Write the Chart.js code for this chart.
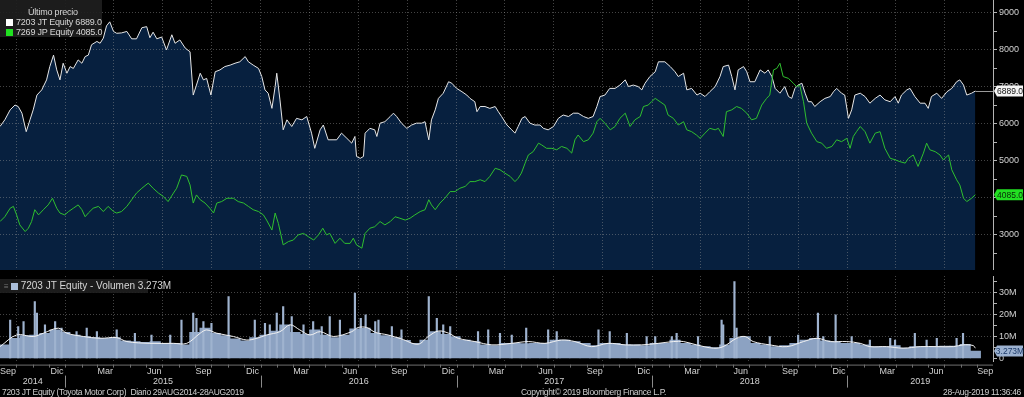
<!DOCTYPE html>
<html>
<head>
<meta charset="utf-8">
<script src="https://cdn.jsdelivr.net/npm/chart.js@4.4.1/dist/chart.umd.min.js"></script>
<style>
  html, body { margin: 0; padding: 0; background: #000; }
  body {
    width: 1024px; height: 397px; position: relative; overflow: hidden;
    font-family: 'Liberation Sans', Arial, sans-serif;
    color: #d6d6d6;
  }
  #price { position: absolute; left: 0; top: 0; }
  #volume { position: absolute; left: 0; top: 270px; }
  .legend { position: absolute; background: rgba(30, 30, 30, 0.93); font-size: 9px; line-height: 10px; white-space: pre; letter-spacing: -0.2px; }
  .legend .row { position: absolute; left: 6px; }
  .legend .sw { display: inline-block; width: 7px; height: 7px; margin-right: 3px; vertical-align: -1px; }
  #legVol { font-size: 10px; letter-spacing: 0; }
  .foot { position: absolute; top: 387px; font-size: 8.5px; line-height: 10px; white-space: pre; color: #cfcfcf; letter-spacing: -0.3px; }
</style>
</head>
<body>
<canvas id="price" width="1024" height="270"></canvas>
<canvas id="volume" width="1024" height="127"></canvas>

<div class="legend" id="legPrice" style="left:0;top:0;width:102px;height:37px;">
  <div style="position:absolute;left:28px;top:7px;">Último precio</div>
  <div class="row" id="row7203" style="top:17px;"></div>
  <div class="row" id="row7269" style="top:27px;"></div>
</div>
<div class="legend" id="legVol" style="left:0;top:279px;width:148px;height:14px;">
  <div class="row" id="rowVol" style="top:2px;left:4px;"></div>
</div>

<div class="foot" style="left:2px;">7203 JT Equity (Toyota Motor Corp)  Diario 29AUG2014-28AUG2019</div>
<div class="foot" style="left:521px;">Copyright© 2019 Bloomberg Finance L.P.</div>
<div class="foot" style="right:3px;">28-Aug-2019 11:36:46</div>

<script>
// x values are days since 29-Aug-2014 (first day of the window)
const DAYS_7203 = [3,12,22,31,37,44,52,59,65,72,81,90,96,103,109,115,121,128,134,140,149,156,162,168,174,184,190,196,202,208,215,221,230,240,249,258,268,277,283,289,296,305,314,324,330,339,349,358,364,370,377,383,389,397,405,414,423,433,442,451,461,467,476,486,492,498,504,511,517,520,526,532,539,548,557,567,576,585,591,601,607,616,632,641,651,660,666,669,676,682,685,694,703,707,713,722,732,738,744,753,763,772,781,791,797,800,804,809,816,822,831,841,847,856,866,875,881,890,894,900,909,918,928,934,940,950,959,965,971,978,984,993,1002,1012,1018,1027,1037,1046,1055,1065,1074,1083,1093,1102,1111,1118,1124,1133,1142,1152,1161,1171,1177,1186,1195,1202,1208,1217,1227,1233,1245,1255,1264,1270,1280,1286,1295,1305,1311,1320,1329,1339,1348,1354,1364,1370,1376,1382,1392,1398,1404,1413,1423,1432,1438,1445,1451,1460,1469,1476,1482,1488,1494,1501,1507,1513,1519,1525,1535,1544,1554,1560,1566,1575,1581,1588,1594,1600,1610,1619,1628,1638,1647,1656,1666,1675,1681,1687,1697,1703,1712,1722,1731,1737,1743,1753,1762,1772,1781,1790,1796,1803,1809,1818,1825];
const PX_7203 = [5930,6110,6380,6510,6470,6290,5790,6110,6380,6780,6920,7190,7550,7860,7460,7190,7640,7370,7550,7500,7730,7640,7820,7860,8140,8230,8180,8320,8650,8760,8500,8450,8460,8500,8300,8300,8600,8630,8330,8480,8300,8350,8000,8410,8180,8270,8050,7950,6780,7050,7370,7190,7230,6780,7410,7460,7550,7590,7640,7680,7820,7680,7590,7500,7280,6920,6830,6420,7010,7370,6650,5840,6110,5930,6150,6110,6200,5750,5340,5840,5970,5570,5570,5750,5610,5480,5660,5120,5070,5120,5750,5880,5840,5660,6020,6060,6200,6290,6200,6020,5880,5970,6020,6020,6060,5840,5570,6110,6380,6690,6830,7140,7100,6960,6870,6780,6690,6600,6330,6470,6470,6420,6470,6330,6200,5970,5840,5750,5930,6150,6200,6020,5970,5970,5880,5840,5930,6150,6240,6200,6290,6290,6200,6150,6200,6470,6740,6780,6960,6960,7050,7190,7010,7050,7010,6920,7100,7280,7410,7680,7680,7550,7410,7280,7370,6920,6960,6780,6830,6740,6870,7010,7280,7550,7590,7280,6920,7460,7550,7410,7140,7140,7460,7370,7460,7280,6960,6830,7010,6740,6690,6960,7050,7100,6830,6600,6600,6470,6600,6690,6740,6870,6960,6830,6780,6150,6380,6780,6830,6740,6560,6690,6780,6650,6600,6740,6560,6780,6920,6960,6740,6560,6560,6420,6740,6830,6690,6870,6960,7140,7190,7050,6780,6830,6889];

const DAYS_7269 = [3,12,22,28,34,40,50,56,62,68,75,84,93,101,109,115,124,131,140,149,156,162,168,177,187,196,205,215,221,230,240,249,258,268,280,289,299,308,317,327,333,342,352,358,364,370,377,386,395,402,408,417,427,439,448,458,467,476,486,495,501,511,517,523,532,542,551,560,570,579,589,598,606,613,619,629,638,647,657,663,669,679,685,694,703,713,722,732,741,750,760,769,778,788,797,804,809,816,825,834,844,853,862,872,881,890,900,909,918,928,937,946,956,965,971,977,984,990,999,1009,1015,1024,1034,1043,1052,1062,1071,1077,1083,1093,1102,1111,1118,1124,1133,1143,1152,1161,1171,1180,1189,1199,1205,1214,1220,1227,1236,1245,1251,1261,1270,1280,1286,1295,1304,1311,1320,1329,1339,1345,1354,1360,1370,1379,1388,1398,1407,1416,1426,1435,1441,1448,1454,1460,1466,1476,1485,1491,1497,1504,1510,1519,1529,1538,1547,1557,1566,1575,1585,1591,1597,1603,1610,1619,1628,1638,1647,1656,1666,1675,1684,1694,1700,1709,1718,1728,1734,1740,1750,1759,1765,1775,1781,1790,1796,1803,1809,1818,1825];
const PX_7269 = [3360,3490,3720,3770,3540,3270,3090,3180,3360,3680,3540,3680,3810,3990,3720,3590,3540,3630,3720,3810,3680,3490,3590,3720,3770,3630,3770,3630,3590,3630,3770,3950,4130,4260,4400,4260,4130,4040,3900,4130,4260,4620,4580,4350,3860,4080,3950,3860,3720,3590,3860,3900,3990,3990,3900,3860,3770,3680,3630,3540,3400,3130,3590,3310,2730,2820,2860,3000,3040,2950,2860,3000,3180,3000,3040,2770,2910,2770,2770,2910,2730,2640,3040,3180,3220,3360,3270,3360,3490,3450,3400,3450,3540,3630,3680,3950,3810,3680,3860,3990,4170,4170,4260,4310,4440,4440,4490,4440,4580,4800,4760,4670,4580,4440,4530,4670,4940,5160,5250,5480,5430,5340,5340,5300,5390,5340,5210,5570,5700,5520,5570,5750,6060,6150,6020,5840,5930,6150,6290,5930,6110,6200,6470,6510,6600,6690,6600,6510,6240,6150,5970,6060,5840,5790,5700,5610,5750,5880,5840,5880,5660,6330,6380,6470,6420,6290,6110,6150,6510,6690,6780,7460,7500,7640,7280,7230,7100,7010,7050,6600,6020,5750,5520,5480,5340,5390,5570,5520,5610,5340,5660,5790,5930,5790,5480,5750,5790,5340,5070,5030,4980,4940,5070,5160,4850,5210,5480,5300,5250,5160,5030,5160,4760,4490,4350,3990,3900,3990,4085];

// volume, millions of shares: general level, single-day spikes, moving average
const VOL_DAYS = [12,31,50,68,87,106,124,143,162,180,199,218,237,255,274,293,311,330,349,367,386,405,423,442,461,479,498,517,535,554,573,591,610,629,647,666,685,704,722,741,760,778,797,816,834,853,872,890,909,928,946,965,984,1002,1021,1040,1058,1077,1096,1114,1133,1152,1171,1189,1208,1227,1245,1264,1283,1301,1320,1339,1357,1376,1395,1413,1432,1451,1469,1488,1507,1525,1544,1563,1581,1600,1619,1637,1656,1675,1694,1712,1731,1750,1768,1787,1806,1825];
const VOL_LEVEL = [6.1,9.1,10.3,10.6,11.4,12.9,11.8,10.6,9.9,9.4,9.1,9.4,7.9,7.6,7.3,7.6,6.8,6.8,6.1,11.8,13.7,11.4,10.3,8.8,7.9,9.4,10.6,12.4,15.2,11.8,10.9,12.9,10.6,9.4,10.6,13.4,13.7,11.4,10.3,9.4,8.2,6.8,8.3,12.1,10.9,9.9,8.3,7.6,6.1,5.8,6.8,6.8,6.7,6.8,6.8,8.3,8.3,7.6,6.8,5.8,6.8,6.8,6.1,6.1,5.8,6.8,6.8,8.3,6.8,6.1,5.3,4.9,6.1,9.1,9.9,6.8,6.1,5.3,5.8,6.8,8.3,9.1,7.9,7.6,6.8,6.8,6.1,5.3,5.3,5.8,4.6,5.3,5.3,5.3,5.6,5.6,6.4,3.273];
const SPIKE_DAYS = [22,37,47,68,72,87,106,118,146,165,184,221,255,286,321,342,364,370,383,398,430,479,498,507,520,532,548,570,588,604,619,638,666,677,686,704,710,735,753,804,819,831,844,896,915,937,959,986,1027,1043,1121,1142,1174,1211,1227,1258,1267,1307,1351,1354,1375,1379,1441,1494,1531,1541,1564,1594,1628,1666,1675,1712,1734,1753,1790,1802];
const SPIKE_VOL = [17.4,14.4,16.7,25.8,20.5,15.2,16.7,13.7,12.1,13.7,12.1,12.9,11.4,10.6,10.6,17.4,20.5,18.2,16.7,15.9,28.1,17.4,15.9,15.2,20.5,23.5,19.0,15.2,16.7,14.4,19.0,17.4,29.6,18.2,19.7,16.7,17.4,14.4,12.9,28.1,18.2,15.2,14.4,12.1,12.9,11.4,10.6,13.7,12.9,12.1,12.9,12.1,11.4,9.9,9.9,9.9,11.4,9.9,17.4,15.2,34.9,13.7,9.9,10.6,20.5,9.9,19.7,9.9,8.3,9.1,8.3,11.4,8.3,9.1,9.1,11.4];
const MA_DAYS = [3,34,65,84,112,128,159,190,221,240,283,327,352,377,389,408,439,464,483,501,526,545,563,582,601,626,660,672,688,704,728,753,784,803,822,841,859,890,922,959,990,1021,1052,1077,1108,1139,1171,1202,1233,1261,1280,1304,1336,1354,1379,1395,1410,1441,1473,1504,1529,1554,1585,1610,1628,1659,1690,1722,1753,1784,1802,1821,1825];
const MA_VOL = [5.3,10.6,9.9,11.4,13.7,11.4,9.9,9.1,9.4,7.6,6.8,6.8,6.8,11.4,12.9,11.4,9.9,8.3,9.1,10.6,12.1,15.2,12.9,10.6,12.1,9.9,12.1,14.0,14.0,11.8,10.6,8.8,6.4,9.9,12.4,11.4,9.1,7.6,6.1,6.8,7.6,6.8,8.3,7.6,5.3,6.8,6.1,6.1,6.8,7.6,7.6,6.1,4.6,5.3,9.1,9.9,7.6,6.1,5.3,7.6,9.1,7.6,7.6,6.8,5.3,5.3,4.6,5.3,5.3,5.3,6.1,5.8,4.6];

const PRICE_TICKS = [2500,3000,3500,4000,4500,5000,5500,6000,6500,7000,7500,8000,8500,9000];
const VOL_TICKS = [0,5,10,15,20,25,30,35];
const MONTH_LABELS = { 2: 'Mar', 5: 'Jun', 8: 'Sep', 11: 'Dic' };
const YEARS = [2014, 2015, 2016, 2017, 2018, 2019];

const FONT = "'Liberation Sans', Arial, sans-serif";
const GRID = 'rgba(150, 150, 150, 0.45)';
const AXIS = '#b4b4b4';
const TICK_TEXT = '#d2d2d2';
const NAVY = '#07203f';
const GREEN = '#2fbf2f';
const WHITE = '#e6e6e6';
const VOL_BLUE = '#8ca2c2';

Chart.defaults.font.family = FONT;

const dayOf = (y, m, d) => Math.round((Date.UTC(y, m, d) - Date.UTC(2014, 7, 29)) / 864e5);
const X_MIN = 3;
const X_MAX = 1858;

const quarterStarts = [];
const monthStarts = [];
YEARS.forEach(y => {
  for (let m = 0; m < 12; m++) {
    const d = dayOf(y, m, 1);
    if (d <= X_MIN || d >= X_MAX) continue;
    monthStarts.push(d);
    if (m % 3 === 0) quarterStarts.push(d);
  }
});

const pts = (xs, ys) => xs.map((x, i) => ({ x, y: ys[i] }));
const last = a => a[a.length - 1];

// legends
document.getElementById('row7203').innerHTML =
  '<span class="sw" style="background:#fff"></span>7203 JT Equity ' + last(PX_7203).toFixed(1);
document.getElementById('row7269').innerHTML =
  '<span class="sw" style="background:#20e020"></span>7269 JP Equity ' + last(PX_7269).toFixed(1);
document.getElementById('rowVol').innerHTML =
  '<span style="color:#777;margin-right:2px;font-size:8px">≡</span><span class="sw" style="background:#a9bdd8"></span>7203 JT Equity - Volumen ' + last(VOL_LEVEL).toFixed(3) + 'M';

function drawTag(ctx, x, y, right, text, bg, fg) {
  const h = 11;
  ctx.save();
  ctx.fillStyle = bg;
  ctx.beginPath();
  ctx.moveTo(x, y);
  ctx.lineTo(x + 3, y - h / 2);
  ctx.lineTo(right, y - h / 2);
  ctx.lineTo(right, y + h / 2);
  ctx.lineTo(x + 3, y + h / 2);
  ctx.closePath();
  ctx.fill();
  ctx.fillStyle = fg;
  ctx.font = '8.5px ' + FONT;
  ctx.textBaseline = 'middle';
  ctx.textAlign = 'center';
  ctx.fillText(text, (x + 3 + right) / 2, y + 0.5);
  ctx.restore();
}

const xScale = {
  type: 'linear',
  min: X_MIN,
  max: X_MAX,
  offset: false,
  afterBuildTicks: s => { s.ticks = quarterStarts.map(v => ({ value: v })); },
  afterFit: s => { s.height = 0; s.paddingLeft = 0; s.paddingRight = 0; },
  ticks: { display: false },
  grid: { color: GRID, drawTicks: false, offset: false },
  border: { display: false, dash: [1, 2] }
};

const priceTags = {
  id: 'priceTags',
  afterDatasetsDraw(chart) {
    const { ctx, chartArea: ca, scales: { x, y } } = chart;
    const py = y.getPixelForValue(last(PX_7203));
    ctx.save();
    ctx.strokeStyle = '#9a9a9a';
    ctx.lineWidth = 1;
    ctx.beginPath();
    ctx.moveTo(x.getPixelForValue(last(DAYS_7203)), Math.round(py) + 0.5);
    ctx.lineTo(ca.right, Math.round(py) + 0.5);
    ctx.stroke();
    ctx.restore();
  },
  afterDraw(chart) {
    const { ctx, chartArea: ca, scales: { y } } = chart;
    drawTag(ctx, ca.right + 1, y.getPixelForValue(last(PX_7203)), chart.width - 1,
      last(PX_7203).toFixed(1), '#f4f4f4', '#111');
    drawTag(ctx, ca.right + 1, y.getPixelForValue(last(PX_7269)), chart.width - 1,
      last(PX_7269).toFixed(1), '#22e022', '#0a2a0a');
  }
};

new Chart(document.getElementById('price'), {
  type: 'line',
  data: {
    datasets: [
      {
        label: '7269 JP Equity',
        data: pts(DAYS_7269, PX_7269),
        borderColor: GREEN,
        borderWidth: 1,
        pointRadius: 0,
        fill: false,
        order: 0
      },
      {
        label: '7203 JT Equity',
        data: pts(DAYS_7203, PX_7203),
        borderColor: WHITE,
        borderWidth: 1,
        pointRadius: 0,
        fill: 'start',
        backgroundColor: NAVY,
        order: 1
      }
    ]
  },
  options: {
    responsive: false,
    animation: false,
    events: [],
    layout: { padding: 0 },
    plugins: {
      legend: { display: false },
      tooltip: { enabled: false },
      filler: { drawTime: 'beforeDraw' }
    },
    scales: {
      x: xScale,
      y: {
        position: 'right',
        min: 2050,
        max: 9350,
        afterBuildTicks: s => { s.ticks = PRICE_TICKS.map(v => ({ value: v })); },
        afterFit: s => { s.width = 31; s.paddingTop = 0; s.paddingBottom = 0; },
        ticks: {
          color: TICK_TEXT,
          font: { size: 9 },
          padding: 2,
          autoSkip: false,
          callback: v => (v % 1000 ? '' : v)
        },
        grid: {
          color: c => (c.tick && c.tick.value % 1000 === 0 ? GRID : 'transparent'),
          tickColor: AXIS,
          tickLength: 4
        },
        border: { display: true, color: AXIS, dash: [1, 2] }
      }
    }
  },
  plugins: [priceTags]
});

const volAxis = {
  id: 'volAxis',
  afterDraw(chart) {
    const { ctx, chartArea: ca, scales: { x, y } } = chart;
    const base = ca.bottom;
    ctx.save();
    // month ticks along the axis
    ctx.strokeStyle = '#6f6f6f';
    ctx.lineWidth = 1;
    ctx.beginPath();
    ctx.moveTo(ca.left, base + 3.5);
    ctx.lineTo(ca.right, base + 3.5);
    monthStarts.forEach(d => {
      const px = Math.round(x.getPixelForValue(d)) + 0.5;
      ctx.moveTo(px, base + 3);
      ctx.lineTo(px, base + 6);
    });
    ctx.stroke();

    ctx.fillStyle = TICK_TEXT;
    ctx.font = '9px ' + FONT;
    ctx.textAlign = 'center';
    ctx.textBaseline = 'middle';
    YEARS.forEach(yr => {
      Object.keys(MONTH_LABELS).forEach(k => {
        const m = +k;
        const a = Math.max(dayOf(yr, m, 1), X_MIN);
        const b = Math.min(dayOf(yr, m + 1, 1), X_MAX);
        if (b <= a) return;
        ctx.fillText(MONTH_LABELS[m], x.getPixelForValue((a + b) / 2), base + 10);
      });
      const a = Math.max(dayOf(yr, 0, 1), X_MIN);
      const b = Math.min(dayOf(yr + 1, 0, 1), X_MAX);
      ctx.fillText(String(yr), x.getPixelForValue((a + b) / 2), base + 20);
    });

    // year separators
    ctx.strokeStyle = '#8a8a8a';
    ctx.beginPath();
    YEARS.forEach(yr => {
      const d = dayOf(yr, 0, 1);
      if (d <= X_MIN || d >= X_MAX) return;
      const px = Math.round(x.getPixelForValue(d)) + 0.5;
      ctx.moveTo(px, base + 14);
      ctx.lineTo(px, base + 26);
    });
    ctx.stroke();
    ctx.restore();

    drawTag(ctx, ca.right + 1, y.getPixelForValue(last(VOL_LEVEL)), chart.width - 1,
      last(VOL_LEVEL).toFixed(3) + 'M', '#9db2d0', '#1d3a68');
  }
};

new Chart(document.getElementById('volume'), {
  type: 'bar',
  data: {
    datasets: [
      {
        type: 'line',
        label: 'Media',
        data: pts(MA_DAYS, MA_VOL),
        borderColor: '#f2f2f2',
        borderWidth: 1,
        pointRadius: 0,
        tension: 0.35,
        order: 0
      },
      {
        label: 'Picos',
        data: pts(SPIKE_DAYS, SPIKE_VOL),
        backgroundColor: '#9fb3cf',
        barThickness: 1.5,
        grouped: false,
        order: 1
      },
      {
        label: 'Volumen',
        data: pts(VOL_DAYS, VOL_LEVEL),
        backgroundColor: VOL_BLUE,
        barThickness: 10.5,
        grouped: false,
        order: 2
      }
    ]
  },
  options: {
    responsive: false,
    animation: false,
    events: [],
    layout: { padding: { top: 6, bottom: 35.4, left: 0, right: 0 } },
    plugins: { legend: { display: false }, tooltip: { enabled: false } },
    scales: {
      x: xScale,
      y: {
        position: 'right',
        min: -1.5,
        max: 37.4,
        afterBuildTicks: s => { s.ticks = VOL_TICKS.map(v => ({ value: v })); },
        afterFit: s => { s.width = 31; s.paddingTop = 0; s.paddingBottom = 0; },
        ticks: {
          color: TICK_TEXT,
          font: { size: 9 },
          padding: 2,
          autoSkip: false,
          callback: v => (v % 10 ? '' : (v === 0 ? '0' : v + 'M'))
        },
        grid: {
          color: c => (c.tick && c.tick.value % 10 === 0 && c.tick.value > 0 ? GRID : 'transparent'),
          tickColor: AXIS,
          tickLength: 4
        },
        border: { display: true, color: AXIS, dash: [1, 2] }
      }
    }
  },
  plugins: [volAxis]
});
</script>
</body>
</html>
